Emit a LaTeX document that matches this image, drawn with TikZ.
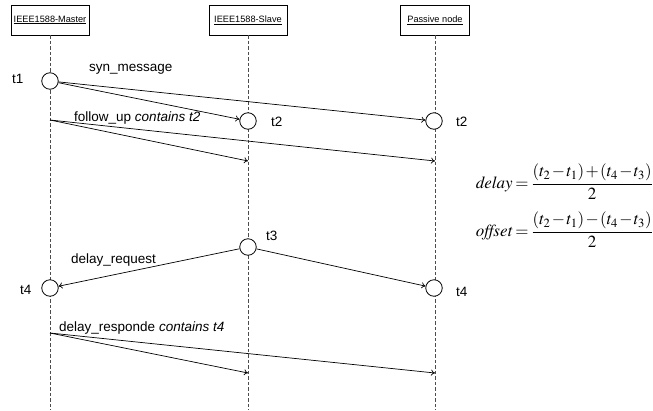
\documentclass[tikz,border=0pt]{standalone}
\usepackage{amsmath}
\usepackage{mathptmx}
\usepackage{fontspec}
\setmainfont{Liberation Sans}
\usetikzlibrary{arrows.meta}
\tikzset{>={To[length=4,width=6]}}

\begin{document}
\begin{tikzpicture}[x=1pt,y=-1pt,
    actor/.style={draw,line width=0.8pt,minimum width=78,minimum height=30,inner sep=1,font=\fontsize{9.2}{10}\selectfont},
    life/.style={line width=0.5pt,dash pattern=on 3.5pt off 2pt,black!70},
    stamp/.style={circle,draw,line width=0.8pt,fill=white,minimum size=16.5,inner sep=0},
    msg/.style={->,line width=0.7pt},
    lbl/.style={font=\fontsize{13.5}{15}\selectfont,inner sep=0,anchor=base west},
    eqn/.style={font=\fontsize{17}{19}\selectfont,inner sep=0,anchor=east}]
    \useasboundingbox (0,0) rectangle (653,410);

    % participants and their lifelines
    \node[actor] (M) at (50,20) {\underline{IEEE1588-Master}};
    \node[actor] (S) at (248,20) {\underline{IEEE1588-Slave}};
    \node[actor,minimum width=69] (P) at (435,20) {\underline{Passive node}};
    \coordinate (Mend) at (50,410);
    \coordinate (Send) at (248,410);
    \coordinate (Pend) at (435,410);
    \draw[life] (M.south) -- (Mend);
    \draw[life] (S.south) -- (Send);
    \draw[life] (P.south) -- (Pend);

    % sync: t1 -> t2
    \node[stamp] (t1) at (50,81) {};
    \node[stamp] (t2s) at (248,121) {};
    \node[stamp] (t2p) at (434,121) {};
    \node[lbl] at (12,83) {t1};
    \node[lbl] at (271,126) {t2};
    \node[lbl] at (456,126) {t2};
    \draw[msg] (t1) -- (t2s);
    \draw[msg] (t1) -- (t2p);
    \node[lbl] at (89,71) {syn\_message};

    % follow up
    \coordinate (fu) at (50,120);
    \coordinate (fuS) at (248,161);
    \coordinate (fuP) at (435,161);
    \draw[msg] (fu) -- (fuS);
    \draw[msg] (fu) -- (fuP);
    \node[lbl] at (74,121) {follow\_up \textit{contains t2}};

    % delay request: t3 -> t4
    \node[stamp] (t3) at (248,247) {};
    \node[stamp] (t4m) at (50,288) {};
    \node[stamp] (t4p) at (434,288) {};
    \node[lbl] at (266,240) {t3};
    \node[lbl] at (20,294) {t4};
    \node[lbl] at (456,296) {t4};
    \draw[msg] (t3) -- (t4m);
    \draw[msg] (t3) -- (t4p);
    \node[lbl] at (71,263) {delay\_request};

    % delay response
    \coordinate (dr) at (50,333);
    \coordinate (drS) at (248,373);
    \coordinate (drP) at (435,373);
    \draw[msg] (dr) -- (drS);
    \draw[msg] (dr) -- (drP);
    \node[lbl] at (59,331) {delay\_responde \textit{contains t4}};

    % delay and offset formulas
    \node[eqn] (fd) at (653,182)
        {$\thickmuskip=3mu \medmuskip=1.5mu
          \mathit{delay}=\dfrac{(t_2-t_1)+(t_4-t_3)}{2}$};
    \node[eqn] (fo) at (653,230)
        {$\thickmuskip=3mu \medmuskip=1.5mu
          \mathit{offset}=\dfrac{(t_2-t_1)-(t_4-t_3)}{2}$};
\end{tikzpicture}
\end{document}
